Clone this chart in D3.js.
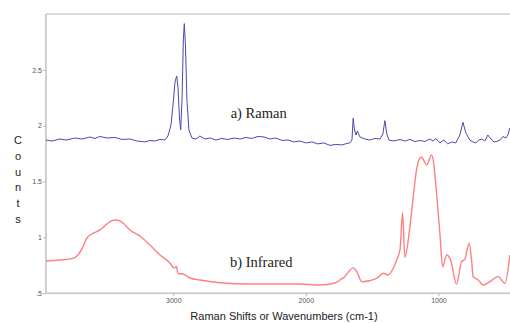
<!DOCTYPE html>
<html><head><meta charset="utf-8">
<script src="https://cdn.jsdelivr.net/npm/d3@7"></script>
<style>html,body{margin:0;padding:0;background:#fff;}svg{display:block;}</style>
</head><body>
<svg id="chart" width="510" height="323"></svg>
<script>
const ramanWn = [3960,3915,3854,3809,3741,3689,3628,3590,3553,3500,3440,3387,3327,3274,3213,3176,3138,3100,3063,3040,3017,3002,2987,2974,2964,2953,2944,2934,2924,2917,2908,2897,2882,2859,2829,2799,2761,2723,2678,2633,2588,2542,2497,2452,2407,2361,2316,2271,2226,2180,2135,2090,2045,2000,1954,1909,1864,1818,1773,1728,1690,1668,1652,1643,1634,1622,1611,1592,1554,1517,1479,1441,1419,1404,1389,1373,1336,1290,1253,1215,1177,1140,1102,1064,1041,1019,989,959,929,899,869,838,815,793,763,740,718,695,672,650,627,604,582,559,536,514,491,476,461];
const ramanCounts = [1.872,1.863,1.881,1.872,1.890,1.881,1.899,1.886,1.904,1.890,1.895,1.877,1.881,1.863,1.855,1.868,1.863,1.877,1.872,1.908,2.007,2.186,2.392,2.445,2.338,2.069,1.962,2.231,2.768,2.914,2.720,2.231,1.962,1.890,1.881,1.908,1.881,1.890,1.872,1.886,1.877,1.890,1.881,1.895,1.886,1.904,1.899,1.881,1.890,1.868,1.872,1.855,1.863,1.846,1.855,1.837,1.846,1.824,1.833,1.828,1.841,1.846,1.872,2.067,1.971,1.917,1.953,1.899,1.881,1.872,1.886,1.881,1.926,2.045,1.926,1.872,1.863,1.877,1.863,1.877,1.859,1.868,1.859,1.881,1.863,1.886,1.846,1.872,1.837,1.855,1.846,1.917,2.031,1.935,1.872,1.855,1.846,1.872,1.881,1.863,1.917,1.881,1.855,1.859,1.872,1.904,1.890,1.917,1.980];

const irWn = [3960,3854,3756,3719,3681,3653,3643,3606,3553,3500,3455,3425,3379,3327,3251,3176,3100,3025,2995,2976,2965,2927,2874,2799,2648,2422,2045,1894,1781,1743,1705,1683,1643,1615,1577,1466,1416,1381,1315,1290,1270,1253,1215,1190,1165,1140,1127,1089,1051,1034,1014,989,968,938,908,863,825,800,787,768,750,738,700,662,612,549,499,461];
const irCounts = [0.789,0.798,0.813,0.843,0.915,0.992,1.007,1.037,1.067,1.120,1.154,1.156,1.129,1.067,1.013,0.932,0.843,0.771,0.727,0.740,0.677,0.673,0.637,0.619,0.595,0.583,0.583,0.574,0.592,0.619,0.650,0.685,0.728,0.691,0.604,0.634,0.679,0.664,0.798,0.888,1.222,0.822,1.096,1.365,1.604,1.709,1.718,1.649,1.738,1.650,1.395,1.037,0.738,0.843,0.798,0.583,0.783,0.804,0.872,0.948,0.800,0.649,0.619,0.574,0.604,0.649,0.590,0.843];

const xTickValues = [3000, 2000, 1000];
const yTickValues = [0.5, 1, 1.5, 2, 2.5];
const yTickLabels = [".5", "1", "1.5", "2", "2.5"];
const yAxisLetters = ["C","o","u","n","t","s"];
const xAxisTitle = "Raman Shifts or Wavenumbers (cm-1)";
const labels = [{text:"a) Raman", wn:2567, v:2.067}, {text:"b) Infrared", wn:2572, v:0.733}];

(function(){
const svg = d3.select("#chart");
const pLeft = 46, pRight = 510, pTop = 14, pBottom = 293.3;
const x = d3.scaleLinear().domain([3960, 460]).range([pLeft, pRight]);
const y = d3.scaleLinear().domain([0.5, 3.0]).range([pBottom, pTop]);

svg.append("line").attr("x1", pLeft).attr("x2", pRight).attr("y1", pTop).attr("y2", pTop)
  .attr("stroke", "#cfcfcf").attr("stroke-width", 1.5);

const yAxis = d3.axisLeft(y).tickValues(yTickValues).tickFormat((d,i)=>yTickLabels[i]).tickSize(3).tickPadding(1);
const gy = svg.append("g").attr("transform", `translate(${pLeft},0)`).call(yAxis);
const xAxis = d3.axisBottom(x).tickValues(xTickValues).tickFormat(d3.format("d")).tickSize(3).tickPadding(2);
const gx = svg.append("g").attr("transform", `translate(0,${pBottom})`).call(xAxis);
[gx, gy].forEach(g => {
  g.select(".domain").attr("stroke", "#c4c4c4").attr("stroke-width", 1.6);
  g.selectAll(".tick line").attr("stroke", "#b8b8b8");
  g.selectAll(".tick text").attr("fill", "#555").attr("font-size", "7px").attr("font-family", "Liberation Sans, Arial, sans-serif");
});
gx.select(".domain").attr("d", `M${pLeft},0H${pRight}`);
gy.select(".domain").attr("d", `M0,${pTop}V${pBottom}`);

const ramanData = ramanWn.map((w,i)=>({w, v: ramanCounts[i]}));
const irData = irWn.map((w,i)=>({w, v: irCounts[i]}));
svg.append("path").datum(irData)
  .attr("fill","none").attr("stroke","#ff8080").attr("stroke-width",1.4)
  .attr("d", d3.line().x(d=>x(d.w)).y(d=>y(d.v)).curve(d3.curveMonotoneX));
svg.append("path").datum(ramanData)
  .attr("fill","none").attr("stroke","#4a4aae").attr("stroke-width",1)
  .attr("d", d3.line().x(d=>x(d.w)).y(d=>y(d.v)));

svg.selectAll("text.ann").data(labels).enter().append("text")
  .attr("class","ann").attr("x", d=>x(d.wn)).attr("y", d=>y(d.v))
  .attr("font-family","Liberation Serif, Times New Roman, serif").attr("font-size","14.5px")
  .attr("fill","#222").text(d=>d.text);

svg.append("text").attr("x", 284).attr("y", 320).attr("text-anchor","middle")
  .attr("font-family","Liberation Sans, Arial, sans-serif").attr("font-size","11px").attr("fill","#222")
  .text(xAxisTitle);
svg.selectAll("text.ylet").data(yAxisLetters).enter().append("text")
  .attr("class","ylet").attr("x", 18).attr("y", (d,i)=>144 + i*15.8).attr("text-anchor","middle")
  .attr("font-family","Liberation Sans, Arial, sans-serif").attr("font-size","11px").attr("fill","#222")
  .text(d=>d);
})();
</script>
</body></html>
